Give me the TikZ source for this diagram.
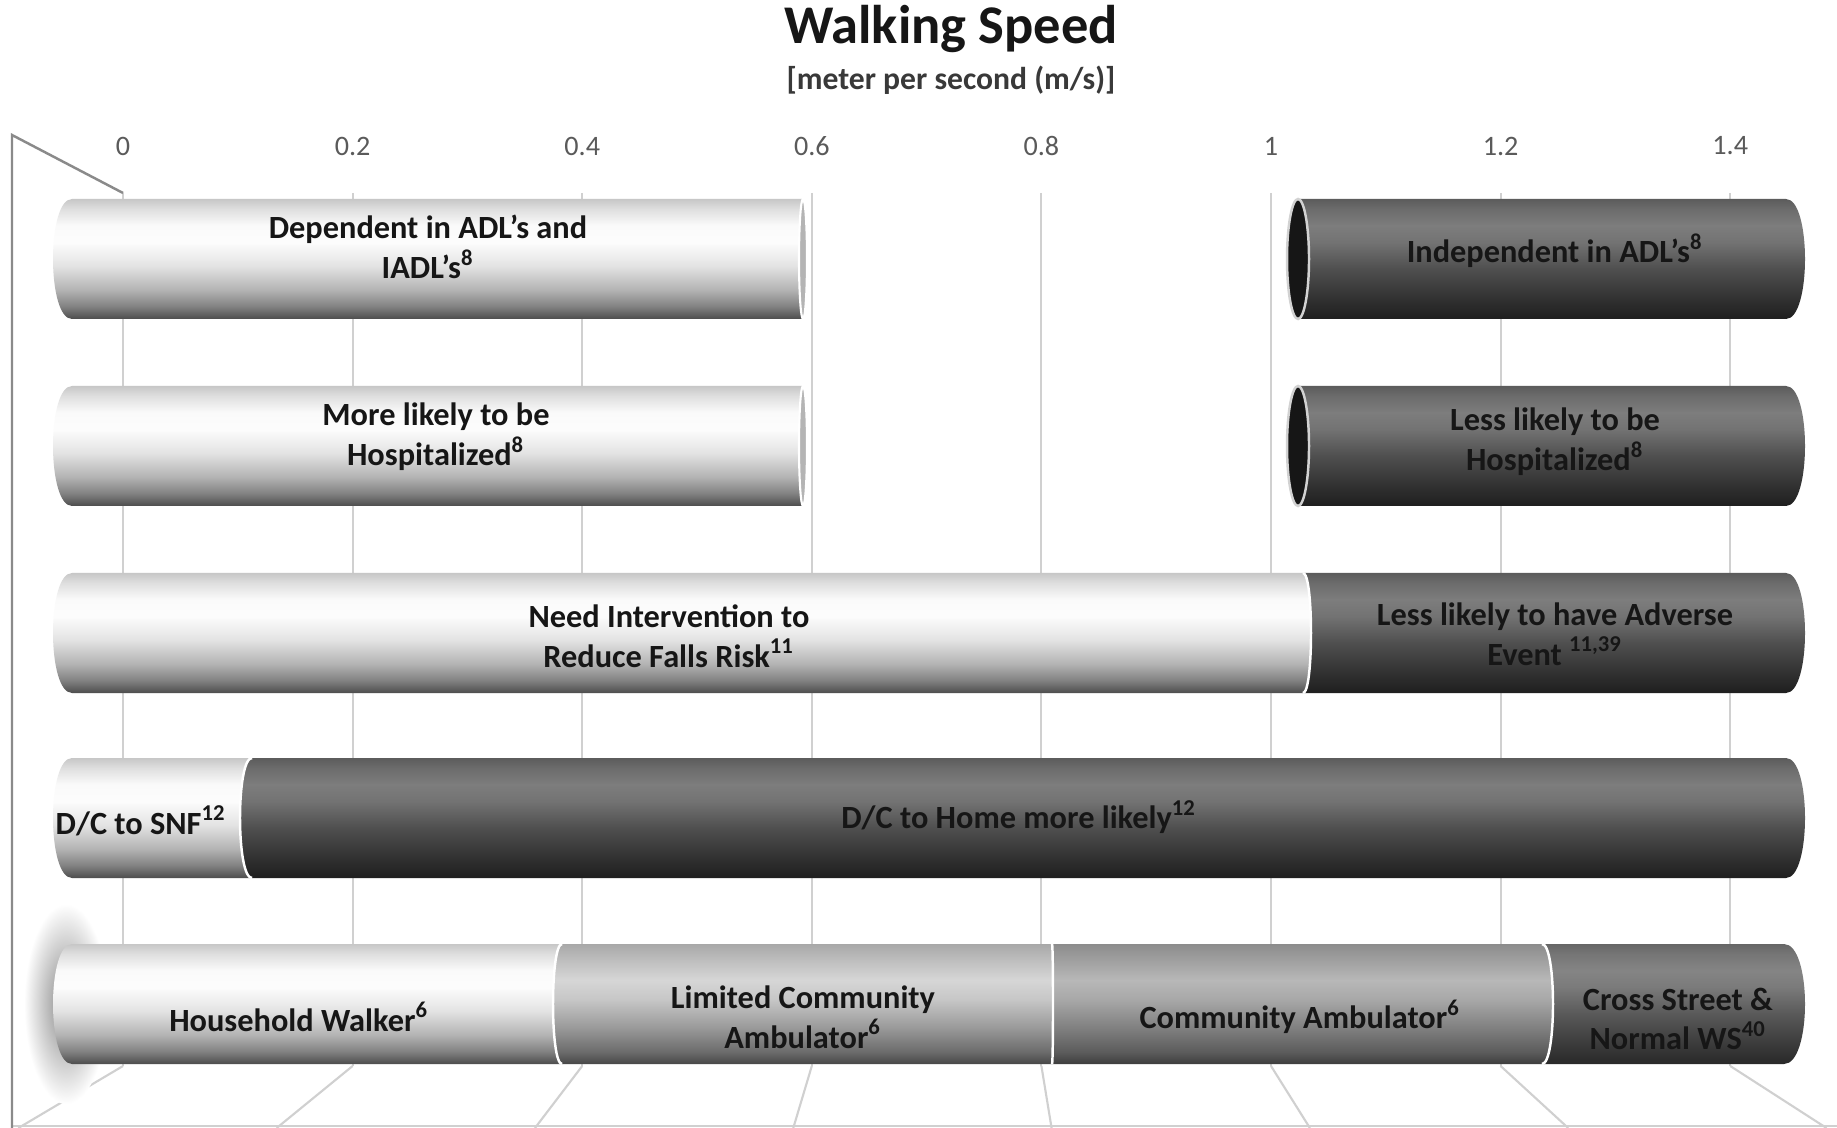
\documentclass[tikz,border=0pt]{standalone}
\usepackage{fontspec}
\setmainfont{Carlito}
\usepackage{tikz}
\usetikzlibrary{positioning}
\definecolor{ink}{HTML}{161616}
\definecolor{tickgray}{HTML}{5A5A5A}
\definecolor{gridgray}{HTML}{D0D0D0}
\definecolor{wallgray}{HTML}{8A8A8A}
\definecolor{facedark}{HTML}{161616}
\definecolor{facelight}{HTML}{B4B4B4}
% vertical shadings of the cylinders (bottom to top, path fills 25bp..75bp)
\pgfdeclareverticalshading{lightbar}{100bp}{rgb(0bp)=(.30,.30,.30); rgb(25bp)=(.30,.30,.30);
  rgb(30bp)=(.50,.50,.50); rgb(37bp)=(.70,.70,.70); rgb(47bp)=(.89,.89,.89);
  rgb(57bp)=(.99,.99,.99); rgb(64bp)=(.98,.98,.98); rgb(71bp)=(.87,.87,.87);
  rgb(75bp)=(.78,.78,.78); rgb(100bp)=(.78,.78,.78)}
\pgfdeclareverticalshading{darkbar}{100bp}{rgb(0bp)=(.12,.12,.12); rgb(25bp)=(.12,.12,.12);
  rgb(32bp)=(.18,.18,.18); rgb(45bp)=(.30,.30,.30); rgb(57bp)=(.45,.45,.45);
  rgb(64bp)=(.49,.49,.49); rgb(71bp)=(.42,.42,.42); rgb(75bp)=(.36,.36,.36);
  rgb(100bp)=(.36,.36,.36)}
\pgfdeclareverticalshading{midlight}{100bp}{rgb(0bp)=(.28,.28,.28); rgb(25bp)=(.28,.28,.28);
  rgb(30bp)=(.42,.42,.42); rgb(40bp)=(.60,.60,.60); rgb(52bp)=(.78,.78,.78);
  rgb(60bp)=(.84,.84,.84); rgb(67bp)=(.76,.76,.76); rgb(75bp)=(.66,.66,.66);
  rgb(100bp)=(.66,.66,.66)}
\pgfdeclareverticalshading{middark}{100bp}{rgb(0bp)=(.24,.24,.24); rgb(25bp)=(.24,.24,.24);
  rgb(30bp)=(.36,.36,.36); rgb(40bp)=(.50,.50,.50); rgb(52bp)=(.66,.66,.66);
  rgb(60bp)=(.72,.72,.72); rgb(67bp)=(.64,.64,.64); rgb(75bp)=(.55,.55,.55);
  rgb(100bp)=(.55,.55,.55)}
\pgfdeclareverticalshading{darkseg}{100bp}{rgb(0bp)=(.16,.16,.16); rgb(25bp)=(.16,.16,.16);
  rgb(32bp)=(.22,.22,.22); rgb(45bp)=(.34,.34,.34); rgb(57bp)=(.48,.48,.48);
  rgb(64bp)=(.52,.52,.52); rgb(71bp)=(.46,.46,.46); rgb(75bp)=(.40,.40,.40);
  rgb(100bp)=(.40,.40,.40)}
\tikzset{
  gridline/.style={draw=gridgray, line width=0.6pt},
  wall/.style={draw=wallgray, line width=0.7pt},
  segline/.style={draw=white, line width=0.7pt},
  lightface/.style={fill=facelight, draw=white, line width=0.6pt},
  darkface/.style={fill=facedark, draw=gray!35, line width=0.7pt},
  charttitle/.style={font=\bfseries\fontsize{15.5}{18}\selectfont, text=ink, inner sep=0pt},
  chartunit/.style={font=\bfseries\fontsize{9}{11}\selectfont, text=ink!85, inner sep=0pt},
  ticklabel/.style={font=\fontsize{8}{10}\selectfont, text=tickgray, inner sep=0pt},
  barlabel/.style={font=\bfseries\fontsize{9.2}{11.3}\selectfont, text=ink,
                   align=center, inner sep=0pt},
}
% one piece of a cylinder: y centre, left x, left bulge, right x, right bulge, shading
\newcommand{\barseg}[6]{%
  \shade[shading=#6]
    (#2,{#1-60}) -- (#4,{#1-60})
    .. controls ({#4+1.333*(#5)},{#1-60}) and ({#4+1.333*(#5)},{#1+60}) .. (#4,{#1+60})
    -- (#2,{#1+60})
    .. controls ({#2+1.333*(#3)},{#1+60}) and ({#2+1.333*(#3)},{#1-60}) .. (#2,{#1-60})
    -- cycle;}
\newcommand{\segedge}[3]{%
  \draw[segline] (#2,{#1-60})
    .. controls ({#2+1.333*(#3)},{#1-60}) and ({#2+1.333*(#3)},{#1+60}) .. (#2,{#1+60});}
\newcommand{\refno}[1]{\textsuperscript{#1}}

\begin{document}
\begin{tikzpicture}[x=0.01cm, y=-0.01cm]
  \useasboundingbox (0,0) rectangle (1837,1128);
  \fill[white] (0,0) rectangle (1837,1128);

  % ---- title ----
  \node[charttitle] (ttl) at (951,29) {Walking Speed};
  \node[chartunit] (unit) at (951,80) {[meter per second (m/s)]};

  % ---- back wall grid, floor and side wall ----
  \foreach \v [count=\i from 0] in {0,0.2,0.4,0.6,0.8,1,1.2,1.4} {
    \pgfmathsetmacro\gx{123+229.6*\i}
    \draw[gridline] (\gx,193) -- (\gx,1066);
    \draw[gridline] (\gx,1066) -- ({1.125*\gx-120},1128);
    \node[ticklabel] (tick\i) at (\gx,146) {\v};
  }
  \draw[gridline] (12,1126) -- (1837,1126);
  \draw[wall] (12,1128) -- (12,135) -- (123,193);

  % ---- row 1 ----
  \barseg{259}{72}{-19}{803}{4}{lightbar}
  \filldraw[lightface] (803,259) ellipse [x radius=4, y radius=60];
  \barseg{259}{1298}{0}{1786}{19}{darkbar}
  \filldraw[darkface] (1298,259) ellipse [x radius=11, y radius=60];
  \node[barlabel] (dep) at (428,247) {Dependent in ADL's and\\IADL's\refno{8}};
  \node[barlabel] (indep) at (1555,251) {Independent in ADL's\refno{8}};

  % ---- row 2 ----
  \barseg{446}{72}{-19}{803}{4}{lightbar}
  \filldraw[lightface] (803,446) ellipse [x radius=4, y radius=60];
  \barseg{446}{1298}{0}{1786}{19}{darkbar}
  \filldraw[darkface] (1298,446) ellipse [x radius=11, y radius=60];
  \node[barlabel] (hosp) at (436,437) {More likely to be\\Hospitalized\refno{8}};
  \node[barlabel] (nohosp) at (1555,442) {Less likely to be\\Hospitalized\refno{8}};

  % ---- row 3 ----
  \barseg{633}{1303}{8}{1786}{19}{darkbar}
  \barseg{633}{72}{-19}{1303}{8}{lightbar}
  \segedge{633}{1303}{8}
  \node[barlabel] (falls) at (669,636) {Need Intervention to\\Reduce Falls Risk\refno{11}};
  \node[barlabel] (adverse) at (1555,634) {Less likely to have Adverse\\Event \refno{11,39}};

  % ---- row 4 ----
  \barseg{818}{252}{-12}{1786}{19}{darkbar}
  \barseg{818}{72}{-19}{252}{-12}{lightbar}
  \segedge{818}{252}{-12}
  \node[barlabel] (snf) at (141,821) {D/C to SNF\refno{12}};
  \node[barlabel] (home) at (1019,817) {D/C to Home more likely\refno{12}};

  % ---- row 5 ----
  \shade[inner color=gray!95, outer color=white] (66,1004) ellipse [x radius=42, y radius=100];
  \barseg{1004}{72}{-19}{562}{-9}{lightbar}
  \barseg{1004}{562}{-9}{1052}{1}{midlight}
  \barseg{1004}{1052}{1}{1542}{11}{middark}
  \barseg{1004}{1542}{11}{1784}{21}{darkseg}
  \segedge{1004}{562}{-9}
  \segedge{1004}{1052}{1}
  \segedge{1004}{1542}{11}
  \node[barlabel] (house) at (299,1017) {Household Walker\refno{6}};
  \node[barlabel] (limited) at (803,1017) {Limited Community\\Ambulator\refno{6}};
  \node[barlabel] (commun) at (1300,1017) {Community Ambulator\refno{6}};
  \node[barlabel] (street) at (1678,1019) {Cross Street \&\\Normal WS\refno{40}};
\end{tikzpicture}
\end{document}
